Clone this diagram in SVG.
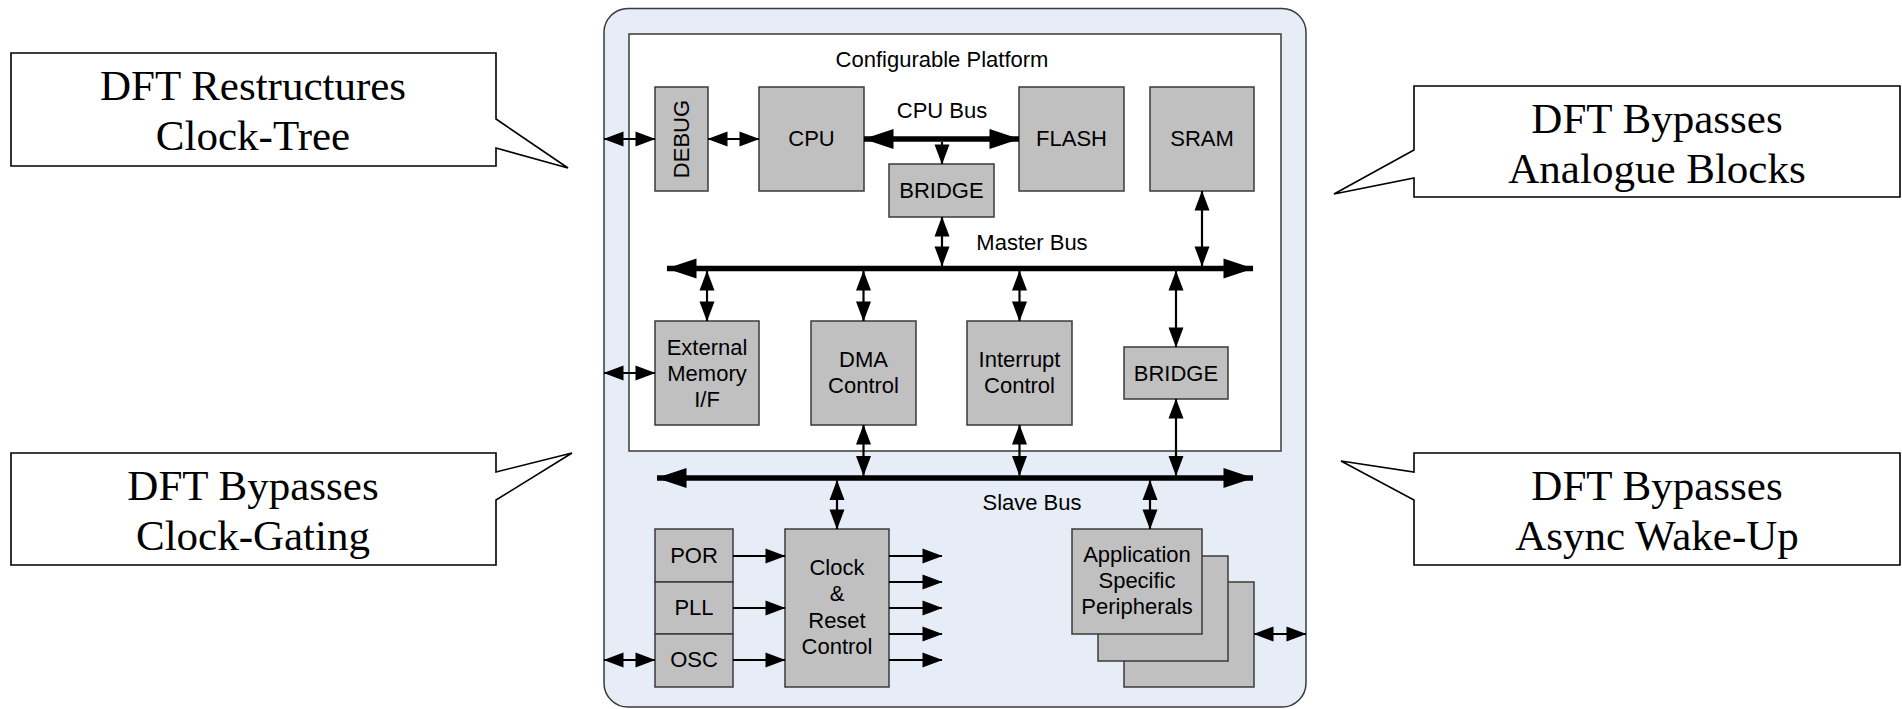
<svg xmlns="http://www.w3.org/2000/svg" width="1902" height="709" viewBox="0 0 1902 709">
<style>
.blk{fill:#c0c0c0;stroke:#3a3a3a;stroke-width:1.5}
.lbl{font-family:"Liberation Sans",Arial,sans-serif;font-size:22px;fill:#000;text-anchor:middle}
.co{fill:#fff;stroke:#000;stroke-width:1.6}
.cot{font-family:"Liberation Serif","Times New Roman",serif;font-size:43px;fill:#000;text-anchor:middle}
.ln{stroke:#000;stroke-width:2.2;fill:none;marker-end:url(#ah)}
.dl{stroke:#000;stroke-width:2.2;fill:none;marker-end:url(#ah);marker-start:url(#ah)}
.bus{stroke:#000;stroke-width:5.5;fill:none;marker-end:url(#bh);marker-start:url(#bh)}
</style>
<defs>
<marker id="ah" markerUnits="userSpaceOnUse" viewBox="0 0 20 15" markerWidth="20" markerHeight="15" refX="19.5" refY="7.5" orient="auto-start-reverse" overflow="visible"><path d="M0,0 L20,7.5 L0,15 Z" fill="#000"/></marker>
<marker id="bh" markerUnits="userSpaceOnUse" viewBox="0 0 30 20" markerWidth="30" markerHeight="20" refX="29.5" refY="10" orient="auto-start-reverse" overflow="visible"><path d="M0,0 L30,10 L0,20 Z" fill="#000"/></marker>
</defs>
<rect width="1902" height="709" fill="#fff"/>
<g id="chip">
<rect x="604" y="8.5" width="702" height="698.5" rx="24" ry="24" fill="#e7edf7" stroke="#3a3a3a" stroke-width="1.5"/>
</g>
<g id="platform">
<rect x="629" y="34" width="652" height="417" fill="#fff" stroke="#3a3a3a" stroke-width="1.5"/>
<text class="lbl" x="942" y="67">Configurable Platform</text>
</g>
<g id="debug"><rect class="blk" x="655" y="87" width="53" height="104"/><text class="lbl" transform="translate(689,139) rotate(-90)">DEBUG</text></g>
<g id="cpu"><rect class="blk" x="759" y="87" width="105" height="104"/><text class="lbl" x="811.5" y="146">CPU</text></g>
<g id="flash"><rect class="blk" x="1019" y="87" width="105" height="104"/><text class="lbl" x="1071.5" y="146">FLASH</text></g>
<g id="sram"><rect class="blk" x="1150" y="87" width="104" height="104"/><text class="lbl" x="1202" y="146">SRAM</text></g>
<g id="bridge1"><rect class="blk" x="889" y="164" width="105" height="53"/><text class="lbl" x="941.5" y="198">BRIDGE</text></g>
<g id="extmem"><rect class="blk" x="655" y="321" width="104" height="104"/><text class="lbl" x="707" y="355">External</text><text class="lbl" x="707" y="381">Memory</text><text class="lbl" x="707" y="407">I/F</text></g>
<g id="dma"><rect class="blk" x="811" y="321" width="105" height="104"/><text class="lbl" x="863.5" y="367">DMA</text><text class="lbl" x="863.5" y="393">Control</text></g>
<g id="irq"><rect class="blk" x="967" y="321" width="105" height="104"/><text class="lbl" x="1019.5" y="367">Interrupt</text><text class="lbl" x="1019.5" y="393">Control</text></g>
<g id="bridge2"><rect class="blk" x="1124" y="347" width="104" height="52"/><text class="lbl" x="1176" y="381">BRIDGE</text></g>
<g id="por"><rect class="blk" x="655" y="529" width="78" height="53"/><text class="lbl" x="694" y="563">POR</text></g>
<g id="pll"><rect class="blk" x="655" y="582" width="78" height="52"/><text class="lbl" x="694" y="615">PLL</text></g>
<g id="osc"><rect class="blk" x="655" y="634" width="78" height="53"/><text class="lbl" x="694" y="667">OSC</text></g>
<g id="clock"><rect class="blk" x="785" y="529" width="104" height="158"/><text class="lbl" x="837" y="575">Clock</text><text class="lbl" x="837" y="601">&amp;</text><text class="lbl" x="837" y="628">Reset</text><text class="lbl" x="837" y="654">Control</text></g>
<g id="app">
<rect class="blk" x="1124" y="582" width="130" height="105"/>
<rect class="blk" x="1098" y="556" width="130" height="105"/>
<rect class="blk" x="1072" y="529" width="130" height="105"/>
<text class="lbl" x="1137" y="562">Application</text><text class="lbl" x="1137" y="588">Specific</text><text class="lbl" x="1137" y="614">Peripherals</text>
</g>
<g id="buslabels">
<text class="lbl" x="942" y="118">CPU Bus</text>
<text class="lbl" x="1032" y="250">Master Bus</text>
<text class="lbl" x="1032" y="510">Slave Bus</text>
</g>
<g id="connectors">
<line class="dl" x1="604" y1="139" x2="655" y2="139"/>
<line class="dl" x1="708" y1="139" x2="759" y2="139"/>
<line class="bus" x1="864" y1="139" x2="1019" y2="139"/>
<line class="ln" x1="942" y1="142" x2="942" y2="164"/>
<line class="dl" x1="942" y1="217" x2="942" y2="266"/>
<line class="dl" x1="1202" y1="191" x2="1202" y2="266"/>
<line class="bus" x1="667" y1="268.5" x2="1253" y2="268.5"/>
<line class="dl" x1="707" y1="271" x2="707" y2="321"/>
<line class="dl" x1="863.5" y1="271" x2="863.5" y2="321"/>
<line class="dl" x1="1019.5" y1="271" x2="1019.5" y2="321"/>
<line class="dl" x1="1176" y1="271" x2="1176" y2="347"/>
<line class="dl" x1="604" y1="373" x2="655" y2="373"/>
<line class="dl" x1="863.5" y1="425" x2="863.5" y2="475.5"/>
<line class="dl" x1="1019.5" y1="425" x2="1019.5" y2="475.5"/>
<line class="dl" x1="1176" y1="399" x2="1176" y2="475.5"/>
<line class="bus" x1="657" y1="478" x2="1253" y2="478"/>
<line class="dl" x1="837" y1="480.5" x2="837" y2="529"/>
<line class="dl" x1="1150" y1="480.5" x2="1150" y2="529"/>
<line class="ln" x1="733" y1="556" x2="785" y2="556"/>
<line class="ln" x1="733" y1="608" x2="785" y2="608"/>
<line class="ln" x1="733" y1="660" x2="785" y2="660"/>
<line class="ln" x1="889" y1="556" x2="942" y2="556"/>
<line class="ln" x1="889" y1="582" x2="942" y2="582"/>
<line class="ln" x1="889" y1="608" x2="942" y2="608"/>
<line class="ln" x1="889" y1="634" x2="942" y2="634"/>
<line class="ln" x1="889" y1="660" x2="942" y2="660"/>
<line class="dl" x1="604" y1="660" x2="655" y2="660"/>
<line class="dl" x1="1254" y1="634" x2="1306" y2="634"/>
</g>
<g id="callout1"><path class="co" d="M11,53 H496 V119 L568,168 L496,148 V166 H11 Z"/><text class="cot" x="253" y="100">DFT Restructures</text><text class="cot" x="253" y="150">Clock-Tree</text></g>
<g id="callout2"><path class="co" d="M1414,86 H1900 V197 H1414 V178 L1334,194 L1414,150 Z"/><text class="cot" x="1657" y="133">DFT Bypasses</text><text class="cot" x="1657" y="183">Analogue Blocks</text></g>
<g id="callout3"><path class="co" d="M11,453 H496 V472 L572,453 L496,500 V565 H11 Z"/><text class="cot" x="253" y="500">DFT Bypasses</text><text class="cot" x="253" y="550">Clock-Gating</text></g>
<g id="callout4"><path class="co" d="M1414,453 H1900 V565 H1414 V500 L1341,461 L1414,472 Z"/><text class="cot" x="1657" y="500">DFT Bypasses</text><text class="cot" x="1657" y="550">Async Wake-Up</text></g>
</svg>
